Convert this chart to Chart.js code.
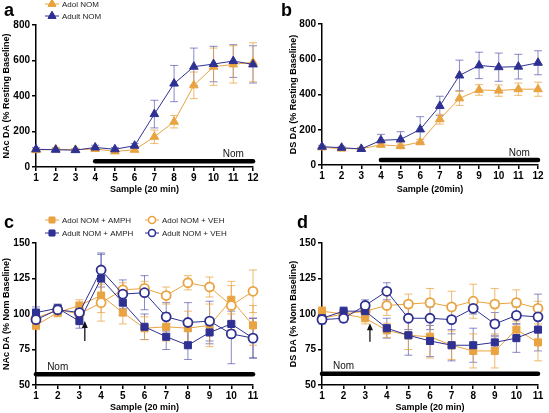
<!DOCTYPE html>
<html>
<head>
<meta charset="utf-8">
<script src="https://cdn.jsdelivr.net/npm/chart.js@4.4.0/dist/chart.umd.min.js"></script>
<style>
  body { margin: 0; background: #fff; }
  .panel { position: absolute; }
</style>
</head>
<body>
<canvas id="chartA" class="panel" style="left:0;top:0" width="275" height="200"></canvas>
<canvas id="chartB" class="panel" style="left:275px;top:0" width="274" height="200"></canvas>
<canvas id="chartC" class="panel" style="left:0;top:200px" width="275" height="213"></canvas>
<canvas id="chartD" class="panel" style="left:275px;top:200px" width="274" height="213"></canvas>
<script>
// samples on the x axis
const samplesAB = ['1', '2', '3', '4', '5', '6', '7', '8', '9', '10', '11', '12'];
const samplesCD = ['1', '2', '3', '4', '5', '6', '7', '8', '9', '10', '11'];

// a: NAc DA (% resting baseline)
const nacAdol = [95, 100, 97, 102, 88, 97, 170, 255, 460, 565, 578, 590];
const nacAdolErr = [8, 10, 8, 10, 8, 10, 38, 35, 75, 105, 105, 110];
const nacAdult = [100, 97, 95, 110, 100, 120, 298, 470, 565, 580, 597, 578];
const nacAdultErr = [10, 8, 8, 12, 10, 12, 78, 102, 105, 100, 92, 105];

// b: DS DA (% resting baseline)
const dsAdol = [100, 93, 92, 115, 107, 130, 260, 378, 426, 422, 430, 430];
const dsAdolErr = [8, 8, 8, 12, 12, 15, 28, 40, 30, 32, 35, 40];
const dsAdult = [104, 98, 91, 140, 145, 202, 335, 508, 565, 555, 558, 580];
const dsAdultErr = [8, 8, 8, 34, 44, 72, 55, 87, 75, 80, 70, 68];

// c: NAc DA (% Nom baseline)
const cAdolAmph = [92, 101, 106, 113, 101, 90, 91, 90, 92, 110, 92];
const cAdolAmphErr = [3, 3, 4, 12, 8, 8, 10, 12, 15, 10, 14];
const cAdultAmph = [101, 104, 95, 125, 108, 91, 84, 78, 87, 93, 83];
const cAdultAmphErr = [4, 3, 5, 17, 9, 9, 9, 10, 8, 9, 14];
const cAdolVeh = [97, 103, 100, 108, 117, 118, 113, 122, 119, 106, 116];
const cAdolVehErr = [4, 3, 3, 13, 5, 5, 6, 5, 7, 17, 15];
const cAdultVeh = [96, 103, 101, 131, 114, 115, 98, 94, 95, 86, 83];
const cAdultVehErr = [4, 3, 3, 12, 10, 12, 10, 14, 14, 21, 14];

// d: DS DA (% Nom baseline)
const dAdolAmph = [102, 100, 97, 88.5, 85, 84, 78, 74, 74, 89, 80];
const dAdolAmphErr = [3, 3, 4, 5, 10, 15, 10, 12, 12, 6, 13];
const dAdultAmph = [97, 102, 102, 90, 85, 81, 78, 78, 80, 83, 89];
const dAdultAmphErr = [3, 3, 4, 7, 14, 11, 11, 12, 4, 10, 15];
const dAdolVeh = [97, 100, 102, 106, 107, 108, 105, 109, 107, 108, 104];
const dAdolVehErr = [3, 3, 4, 7, 7, 10, 11, 12, 11, 9, 5];
const dAdultVeh = [96, 97, 106, 116, 97, 97, 96, 104, 93, 99, 98];
const dAdultVehErr = [3, 3, 4, 6, 8, 8, 10, 4, 8, 6, 16];

const ORANGE = 'rgb(233, 163, 64)';
const BLUE = 'rgb(46, 49, 146)';
const ORANGE_ERR = 'rgba(233, 163, 64, 0.75)';
const BLUE_ERR = 'rgba(60, 62, 160, 0.6)';

Chart.defaults.font.family = '"Liberation Sans", Arial, sans-serif';
Chart.defaults.color = '#000';

// error bars drawn under the lines
const errorBars = {
  id: 'errorBars',
  beforeDatasetsDraw(chart) {
    const ctx = chart.ctx;
    const xs = chart.scales.x, ys = chart.scales.y;
    chart.data.datasets.forEach(ds => {
      if (!ds.err) return;
      ctx.save();
      ctx.strokeStyle = ds.errColor;
      ctx.lineWidth = 1;
      ds.data.forEach((v, j) => {
        const px = xs.getPixelForValue(j);
        const top = ys.getPixelForValue(v + ds.err[j]);
        const bot = ys.getPixelForValue(v - ds.err[j]);
        ctx.beginPath();
        ctx.moveTo(px, top); ctx.lineTo(px, bot);
        ctx.moveTo(px - 4, top); ctx.lineTo(px + 4, top);
        ctx.moveTo(px - 4, bot); ctx.lineTo(px + 4, bot);
        ctx.stroke();
      });
      ctx.restore();
    });
  }
};

function drawMarker(ctx, style, x, y, color) {
  ctx.save();
  ctx.strokeStyle = color;
  ctx.lineWidth = 1;
  ctx.beginPath();
  ctx.moveTo(x - 7, y); ctx.lineTo(x + 7, y);
  ctx.stroke();
  if (style === 'circle') {
    Chart.helpers.drawPoint(ctx, {pointStyle: 'circle', radius: 3.5, borderWidth: 1.5}, x, y);
    ctx.fillStyle = '#fff'; ctx.lineWidth = 1.5;
    ctx.fill(); ctx.stroke();
  } else {
    ctx.fillStyle = color;
    Chart.helpers.drawPoint(ctx, {pointStyle: style, radius: style === 'rect' ? 4 : 4.5, borderWidth: 1}, x, y);
    ctx.fill(); ctx.stroke();
  }
  ctx.restore();
}

// letter, legend, Nom bar, arrow
const extras = {
  id: 'extras',
  afterDraw(chart, args, opts) {
    const ctx = chart.ctx;
    const xs = chart.scales.x, ys = chart.scales.y;
    ctx.save();
    ctx.fillStyle = '#000';
    ctx.font = 'bold 18px "Liberation Sans", Arial, sans-serif';
    ctx.textBaseline = 'alphabetic';
    ctx.fillText(opts.letter, opts.letterX, opts.letterY);

    ctx.font = '8px "Liberation Sans", Arial, sans-serif';
    ctx.textBaseline = 'middle';
    opts.legend.forEach(item => {
      const ds = chart.data.datasets[item.ds];
      drawMarker(ctx, ds.pointStyle, item.x, item.y, ds.borderColor);
      ctx.fillStyle = '#222';
      ctx.fillText(ds.label, item.x + 10, item.y + 0.5);
    });

    // Nom bar
    const nom = opts.nom;
    const yb = ys.getPixelForValue(nom.value);
    ctx.strokeStyle = '#000';
    ctx.lineWidth = 4.5;
    ctx.lineCap = 'round';
    ctx.beginPath();
    ctx.moveTo(xs.getPixelForValue(nom.from), yb);
    ctx.lineTo(xs.getPixelForValue(nom.to), yb);
    ctx.stroke();
    ctx.fillStyle = '#111';
    ctx.font = '10px "Liberation Sans", Arial, sans-serif';
    ctx.textAlign = 'center';
    ctx.textBaseline = 'bottom';
    ctx.fillText('Nom', xs.getPixelForValue(nom.textAt), yb - 2);

    if (opts.arrow) {
      const ax = xs.getPixelForValue(opts.arrow.at);
      const a0 = ys.getPixelForValue(opts.arrow.from);
      const a1 = ys.getPixelForValue(opts.arrow.to);
      ctx.lineWidth = 1.2;
      ctx.lineCap = 'butt';
      ctx.beginPath();
      ctx.moveTo(ax, a0); ctx.lineTo(ax, a1 + 5);
      ctx.stroke();
      ctx.beginPath();
      ctx.moveTo(ax, a1); ctx.lineTo(ax - 3, a1 + 7); ctx.lineTo(ax + 3, a1 + 7);
      ctx.closePath();
      ctx.fill();
    }
    ctx.restore();
  }
};

function series(label, data, err, color, errColor, style) {
  const hollow = style === 'circle';
  return {
    label: label,
    data: data,
    err: err,
    errColor: errColor,
    borderColor: color,
    backgroundColor: hollow ? '#fff' : color,
    pointStyle: style,
    pointRadius: style === 'rect' ? 5 : (hollow ? 4.5 : 5),
    pointBorderWidth: hollow ? 1.8 : 1,
    borderWidth: 1,
    tension: 0
  };
}

function buildOptions(cfg) {
  return {
    responsive: false,
    animation: false,
    layout: { padding: { left: 0, top: cfg.top, right: cfg.right, bottom: 0 } },
    plugins: {
      legend: { display: false },
      tooltip: { enabled: false },
      extras: cfg.extras
    },
    scales: {
      x: {
        type: 'category',
        offset: false,
        afterFit: s => { s.height = cfg.xHeight; },
        border: { color: '#000', width: 1.5 },
        grid: { drawOnChartArea: false, color: '#000', lineWidth: 1.5, tickLength: 4 },
        ticks: { autoSkip: false, maxRotation: 0, padding: 1, font: { size: 10, weight: 'bold' } },
        title: { display: true, text: cfg.xTitle, padding: { top: 0, bottom: cfg.xTitlePad }, font: { size: 9, weight: 'bold' } }
      },
      y: {
        min: cfg.yMin,
        max: cfg.yMax,
        afterFit: s => { s.width = cfg.yWidth; },
        border: { color: '#000', width: 1.5 },
        grid: { drawOnChartArea: false, color: '#000', lineWidth: 1.5, tickLength: 4 },
        ticks: { stepSize: cfg.yStep, padding: 2, font: { size: 10, weight: 'bold' } },
        title: { display: true, text: cfg.yTitle, padding: { top: cfg.yTitlePad, bottom: 0 }, font: { size: 9, weight: 'bold' } }
      }
    }
  };
}

new Chart(document.getElementById('chartA').getContext('2d'), {
  type: 'line',
  data: {
    labels: samplesAB,
    datasets: [
      series('Adult NOM', nacAdult, nacAdultErr, BLUE, BLUE_ERR, 'triangle'),
      series('Adol NOM', nacAdol, nacAdolErr, ORANGE, ORANGE_ERR, 'triangle')
    ]
  },
  options: buildOptions({
    top: 25, right: 22, xHeight: 33, yWidth: 36, yMin: 0, yMax: 800, yStep: 200,
    xTitle: 'Sample (20 min)', xTitlePad: 5, yTitle: 'NAc DA (% Resting Baseline)', yTitlePad: 1,
    extras: {
      letter: 'a', letterX: 4, letterY: 16,
      legend: [{ ds: 1, x: 52, y: 4 }, { ds: 0, x: 52, y: 16 }],
      nom: { from: 3, to: 11, value: 32, textAt: 10 }
    }
  }),
  plugins: [errorBars, extras]
});

new Chart(document.getElementById('chartB').getContext('2d'), {
  type: 'line',
  data: {
    labels: samplesAB,
    datasets: [
      series('Adult NOM', dsAdult, dsAdultErr, BLUE, BLUE_ERR, 'triangle'),
      series('Adol NOM', dsAdol, dsAdolErr, ORANGE, ORANGE_ERR, 'triangle')
    ]
  },
  options: buildOptions({
    top: 24, right: 11, xHeight: 35, yWidth: 47, yMin: 0, yMax: 800, yStep: 200,
    xTitle: 'Sample (20min)', xTitlePad: 5, yTitle: 'DS DA (% Resting Baseline)', yTitlePad: 13,
    extras: {
      letter: 'b', letterX: 6, letterY: 16,
      legend: [],
      nom: { from: 3, to: 11, value: 28, textAt: 10.05 }
    }
  }),
  plugins: [errorBars, extras]
});

new Chart(document.getElementById('chartC').getContext('2d'), {
  type: 'line',
  data: {
    labels: samplesCD,
    datasets: [
      series('Adult NOM + VEH', cAdultVeh, cAdultVehErr, BLUE, BLUE_ERR, 'circle'),
      series('Adult NOM + AMPH', cAdultAmph, cAdultAmphErr, BLUE, BLUE_ERR, 'rect'),
      series('Adol NOM + VEH', cAdolVeh, cAdolVehErr, ORANGE, ORANGE_ERR, 'circle'),
      series('Adol NOM + AMPH', cAdolAmph, cAdolAmphErr, ORANGE, ORANGE_ERR, 'rect')
    ]
  },
  options: buildOptions({
    top: 43, right: 22, xHeight: 28, yWidth: 36, yMin: 50, yMax: 150, yStep: 25,
    xTitle: 'Sample (20 min)', xTitlePad: 0, yTitle: 'NAc DA (% Nom Baseline)', yTitlePad: 1,
    extras: {
      letter: 'c', letterX: 4, letterY: 28,
      legend: [
        { ds: 3, x: 52, y: 20 }, { ds: 1, x: 52, y: 33 },
        { ds: 2, x: 152, y: 20 }, { ds: 0, x: 152, y: 33 }
      ],
      nom: { from: 0, to: 10, value: 57.5, textAt: 1 },
      arrow: { at: 2.25, from: 81, to: 95 }
    }
  }),
  plugins: [errorBars, extras]
});

new Chart(document.getElementById('chartD').getContext('2d'), {
  type: 'line',
  data: {
    labels: samplesCD,
    datasets: [
      series('Adult NOM + VEH', dAdultVeh, dAdultVehErr, BLUE, BLUE_ERR, 'circle'),
      series('Adult NOM + AMPH', dAdultAmph, dAdultAmphErr, BLUE, BLUE_ERR, 'rect'),
      series('Adol NOM + VEH', dAdolVeh, dAdolVehErr, ORANGE, ORANGE_ERR, 'circle'),
      series('Adol NOM + AMPH', dAdolAmph, dAdolAmphErr, ORANGE, ORANGE_ERR, 'rect')
    ]
  },
  options: buildOptions({
    top: 43, right: 11, xHeight: 28, yWidth: 47, yMin: 50, yMax: 150, yStep: 25,
    xTitle: 'Sample (20 min)', xTitlePad: 0, yTitle: 'DS DA (% Nom Baseline)', yTitlePad: 13,
    extras: {
      letter: 'd', letterX: 22, letterY: 28,
      legend: [],
      nom: { from: 0, to: 10, value: 58, textAt: 1 },
      arrow: { at: 2.22, from: 80.5, to: 93.5 }
    }
  }),
  plugins: [errorBars, extras]
});
</script>
</body>
</html>
